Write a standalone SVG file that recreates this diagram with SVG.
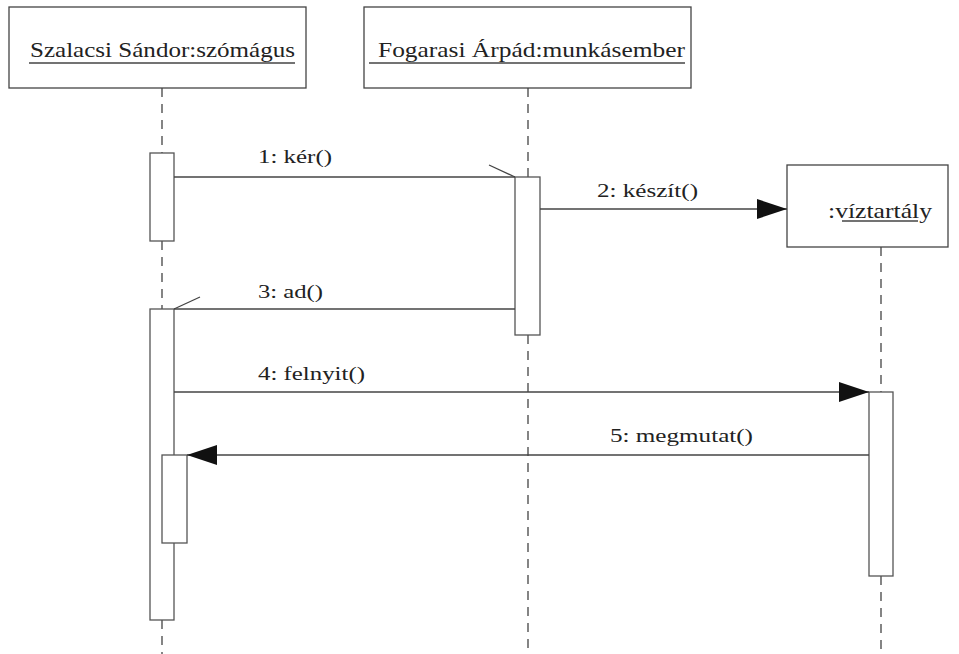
<svg xmlns="http://www.w3.org/2000/svg" width="959" height="654" viewBox="0 0 959 654">
<style>
.box{fill:#fff;stroke:#444;stroke-width:1.3}
.act{fill:#fff;stroke:#555;stroke-width:1.3}
.life{stroke:#444;stroke-width:1.3;stroke-dasharray:9 7;fill:none}
.msg{stroke:#444;stroke-width:1.3;fill:none}
.t{font-family:"Liberation Serif","Times New Roman",serif;fill:#222}
.name{font-size:21px}
.lbl{font-size:18px}
.ul{stroke:#444;stroke-width:1.3}
</style>
<defs>
<marker id="filled" viewBox="0 0 30 20" refX="30" refY="10" markerWidth="30" markerHeight="20" markerUnits="userSpaceOnUse" orient="auto">
<path d="M0,0 L30,10 L0,20 Z" fill="#111"/>
</marker>
</defs>
<rect width="959" height="654" fill="#fff"/>
<g id="lifelines">
<line class="life" x1="162" y1="88" x2="162" y2="153"/>
<line class="life" x1="162" y1="241" x2="162" y2="309"/>
<line class="life" x1="162" y1="620" x2="162" y2="654"/>
<line class="life" x1="528" y1="88" x2="528" y2="177"/>
<line class="life" x1="528" y1="335" x2="528" y2="654"/>
<line class="life" x1="881" y1="247" x2="881" y2="392"/>
<line class="life" x1="881" y1="576" x2="881" y2="654"/>
</g>
<g id="szalacsi">
<rect class="box" x="9" y="7" width="297" height="81"/>
<text class="t name" x="30" y="57" textLength="265" lengthAdjust="spacingAndGlyphs">Szalacsi Sándor:szómágus</text>
<line class="ul" x1="29" y1="63" x2="295" y2="63"/>
</g>
<g id="fogarasi">
<rect class="box" x="364" y="7" width="327" height="81"/>
<text class="t name" x="378" y="57" textLength="307" lengthAdjust="spacingAndGlyphs">Fogarasi Árpád:munkásember</text>
<line class="ul" x1="369" y1="63" x2="685" y2="63"/>
</g>
<g id="viztartaly">
<rect class="box" x="787" y="165" width="161" height="82"/>
<text class="t name" x="828" y="218" textLength="104" lengthAdjust="spacingAndGlyphs">:víztartály</text>
<line class="ul" x1="842" y1="221" x2="918" y2="221"/>
</g>
<g id="activations">
<rect class="act" x="150" y="153" width="24" height="88"/>
<rect class="act" x="515" y="177" width="25" height="158"/>
<rect class="act" x="150" y="309" width="24" height="311"/>
<rect class="act" x="162" y="455" width="25" height="88"/>
<rect class="act" x="869" y="392" width="24" height="184"/>
</g>
<g id="connectors">
<line class="msg" x1="174" y1="177" x2="515" y2="177"/>
<line class="msg" x1="489" y1="165" x2="515" y2="177"/>
<line class="msg" x1="540" y1="209" x2="787" y2="209" marker-end="url(#filled)"/>
<line class="msg" x1="515" y1="309" x2="174" y2="309"/>
<line class="msg" x1="174" y1="309" x2="200" y2="297"/>
<line class="msg" x1="174" y1="392" x2="869" y2="392" marker-end="url(#filled)"/>
<line class="msg" x1="869" y1="455" x2="187" y2="455" marker-end="url(#filled)"/>
</g>
<g id="labels">
<text class="t lbl" x="258" y="163" textLength="74" lengthAdjust="spacingAndGlyphs">1: kér()</text>
<text class="t lbl" x="597" y="197" textLength="101" lengthAdjust="spacingAndGlyphs">2: készít()</text>
<text class="t lbl" x="258" y="298" textLength="65" lengthAdjust="spacingAndGlyphs">3: ad()</text>
<text class="t lbl" x="258" y="380" textLength="107" lengthAdjust="spacingAndGlyphs">4: felnyit()</text>
<text class="t lbl" x="610" y="442" textLength="143" lengthAdjust="spacingAndGlyphs">5: megmutat()</text>
</g>
</svg>
